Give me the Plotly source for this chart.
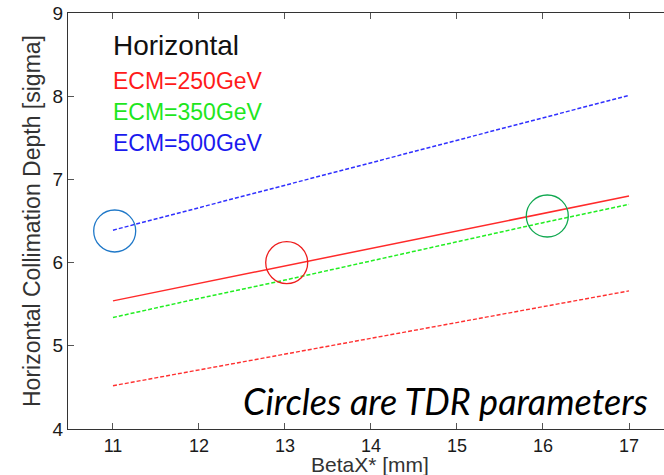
import plotly.graph_objects as go

beta_x = [11, 12, 13, 14, 15, 16, 17]
depth_250 = [5.54, 5.75, 5.96, 6.17, 6.38, 6.59, 6.80]
depth_350 = [5.34, 5.57, 5.79, 6.02, 6.25, 6.48, 6.70]
depth_500 = [6.39, 6.66, 6.93, 7.20, 7.47, 7.74, 8.01]
depth_250_low = [4.52, 4.71, 4.90, 5.09, 5.28, 5.47, 5.66]

tdr_x = [11.02, 13.02, 16.05]
tdr_y = [6.38, 6.00, 6.56]
tdr_colors = ["#1f78c8", "#ee1c1c", "#10a850"]

legend_labels = ["Horizontal", "ECM=250GeV", "ECM=350GeV", "ECM=500GeV"]
legend_colors = ["#111111", "#ff1a1a", "#1ee61e", "#1a1aee"]

fig = go.Figure()
fig.add_trace(go.Scatter(x=beta_x, y=depth_250_low, mode="lines",
                         line=dict(color="#ff3030", width=1.4, dash="4px,2px")))
fig.add_trace(go.Scatter(x=beta_x, y=depth_350, mode="lines",
                         line=dict(color="#22ee22", width=1.5, dash="4px,2px")))
fig.add_trace(go.Scatter(x=beta_x, y=depth_250, mode="lines",
                         line=dict(color="#ff2a2a", width=1.5)))
fig.add_trace(go.Scatter(x=beta_x, y=depth_500, mode="lines",
                         line=dict(color="#3030ff", width=1.5, dash="4px,2px")))
fig.add_trace(go.Scatter(x=tdr_x, y=tdr_y, mode="markers",
                         marker=dict(symbol="circle-open", size=42,
                                     color=tdr_colors,
                                     line=dict(width=1.3, color=tdr_colors))))

fig.update_layout(
    width=664, height=475,
    margin=dict(l=68, r=0, t=13, b=46),
    paper_bgcolor="white", plot_bgcolor="white",
    showlegend=False,
    font=dict(family="Liberation Sans, Arial, sans-serif", color="#111111"),
)
fig.update_xaxes(
    range=[10.477, 17.407], tickvals=beta_x, ticks="inside", ticklen=6,
    tickcolor="#555555", showline=True, linecolor="#333333", linewidth=1.3,
    mirror="ticks", showgrid=False, zeroline=False,
    tickfont=dict(size=18, color="#1a1a1a"),
)
fig.update_yaxes(
    range=[4, 9], tickvals=[4, 5, 6, 7, 8, 9], ticks="inside", ticklen=6,
    tickcolor="#555555", showline=True, linecolor="#333333", linewidth=1.3,
    mirror=False, showgrid=False, zeroline=False,
    tickfont=dict(size=19, color="#1a1a1a"),
    title=dict(text="Horizontal Collimation Depth [sigma]",
               font=dict(size=23, color="#333333"), standoff=5),
)

# x-axis title placed just under the tick labels
fig.add_annotation(text="BetaX* [mm]", xref="paper", yref="paper", x=0.507, y=-0.054,
                   xanchor="center", yanchor="top", showarrow=False,
                   font=dict(size=21, color="#333333"))

ys = [0.923, 0.8377, 0.762, 0.6863]
sizes = [28, 23, 23, 23]
for lab, col, yy, sz in zip(legend_labels, legend_colors, ys, sizes):
    fig.add_annotation(text=lab, xref="paper", yref="paper", x=0.072, y=yy,
                       xanchor="left", yanchor="middle", showarrow=False,
                       font=dict(size=sz, color=col))

fig.add_annotation(text="<i>Circles are TDR parameters</i>", xref="paper", yref="paper",
                   x=0.29, y=0.068, xanchor="left", yanchor="middle", showarrow=False,
                   font=dict(size=36, color="#000000", family="Lato, Open Sans, sans-serif"))

fig.write_html("out.html", config={"displayModeBar": False})

with open("out.html", "r", encoding="utf-8") as f:
    html = f.read()
html = html.replace("<body>", '<body style="margin:0;padding:0;">', 1)
with open("out.html", "w", encoding="utf-8") as f:
    f.write(html)
